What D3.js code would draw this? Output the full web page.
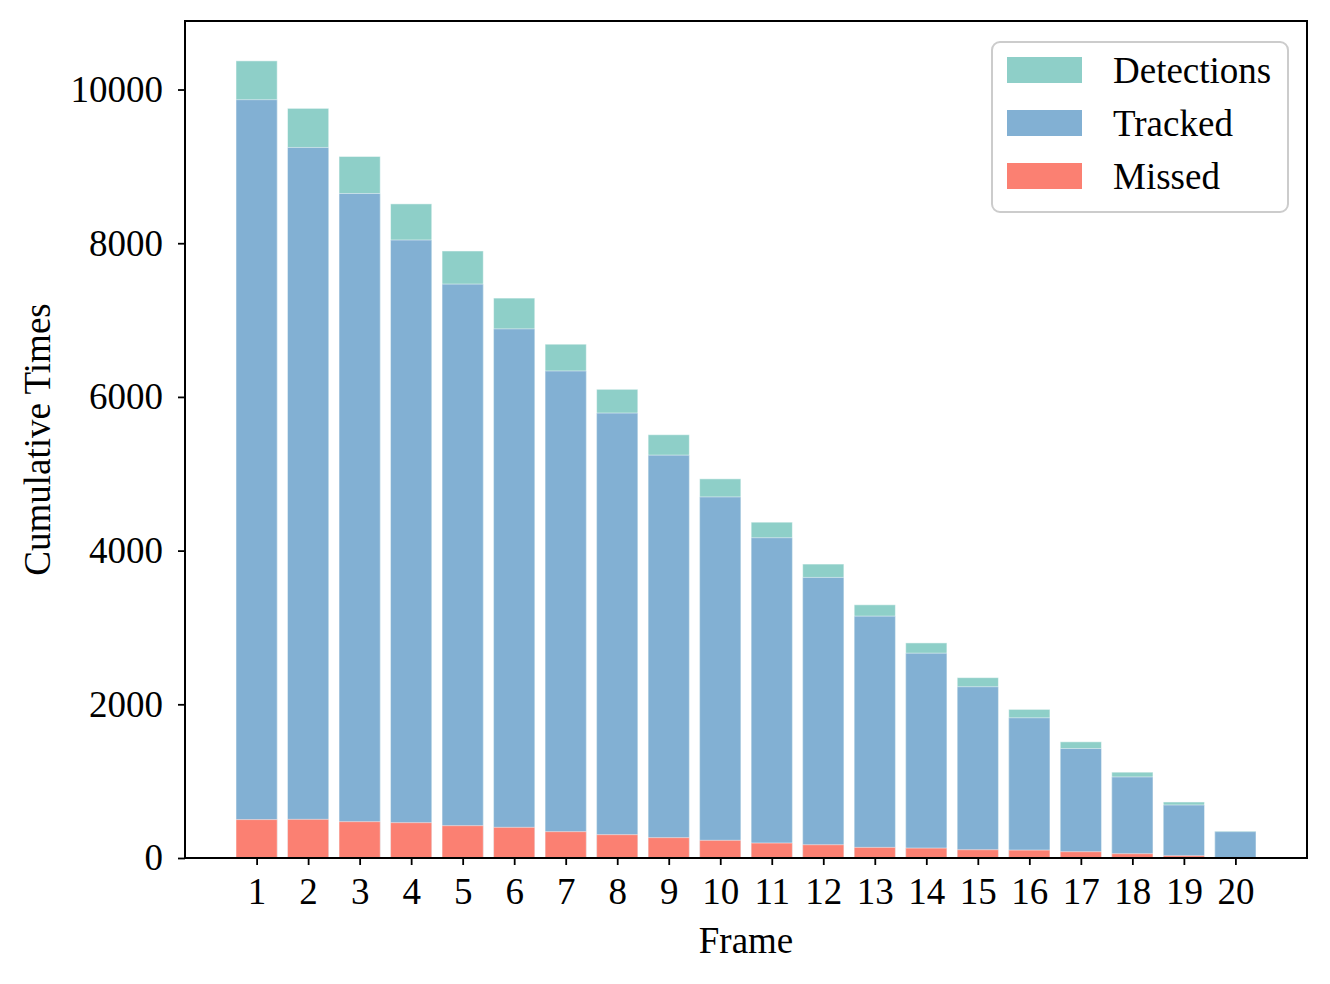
<!DOCTYPE html>
<html>
<head>
<meta charset="utf-8">
<script src="https://cdn.jsdelivr.net/npm/d3@7"></script>
<style>
  body { margin: 0; background: #fff; }
  text { font-family: "Liberation Serif", "Times New Roman", serif; }
</style>
</head>
<body>
<div id="chart"></div>
<script>
// frames 1..20 and the three series
const frames = d3.range(1, 21)
const detections = [10373, 9755, 9129, 8512, 7899, 7286, 6686, 6099, 5508, 4934,
                    4370, 3825, 3295, 2799, 2347, 1934, 1512, 1117, 729, 351]
const tracked = [9868, 9246, 8647, 8042, 7468, 6886, 6338, 5790, 5242, 4699,
                 4168, 3651, 3147, 2665, 2229, 1825, 1425, 1055, 690, 343]
const missed = [500, 503, 473, 460, 421, 399, 343, 304, 265, 230,
                195, 173, 138, 129, 108, 103, 82, 56, 30, 5]
const yTicks = [0, 2000, 4000, 6000, 8000, 10000]
const seriesNames = ["Detections", "Tracked", "Missed"]
const colors = ["#8ecfc8", "#82b0d3", "#fb8072"]

const width = 1330
const height = 984
const margin = { top: 21, right: 23, bottom: 126, left: 185 }
const fontSize = 37

const svg = d3.select("#chart").append("svg")
  .attr("width", width).attr("height", height)

const plotW = width - margin.left - margin.right
const plotH = height - margin.top - margin.bottom

// matplotlib-like autoscale: bars are 0.8 wide, 5% margins
const barW = 0.8
const lo = 1 - barW / 2, hi = 20 + barW / 2
const pad = (hi - lo) * 0.05
const x = d3.scaleLinear().domain([lo - pad, hi + pad]).range([0, plotW])
const y = d3.scaleLinear().domain([0, d3.max(detections) * 1.05]).range([plotH, 0])

const g = svg.append("g").attr("transform", `translate(${margin.left}, ${margin.top})`)

// bars drawn over each other from zero: detections, then tracked, then missed
const allSeries = [detections, tracked, missed]
allSeries.forEach((vals, i) => {
  g.append("g").selectAll("rect").data(vals).enter().append("rect")
    .attr("x", (d, j) => x(frames[j] - barW / 2))
    .attr("width", x(barW) - x(0))
    .attr("y", d => y(d))
    .attr("height", d => y(0) - y(d))
    .attr("fill", colors[i])
    .attr("stroke", "#ffffff")
    .attr("stroke-opacity", 0.5)
    .attr("stroke-width", 1)
})

// axes
const xAxis = d3.axisBottom(x).tickValues(frames).tickSize(7).tickPadding(13)
const yAxis = d3.axisLeft(y).tickValues(yTicks).tickFormat(d3.format("d"))
  .tickSize(7).tickPadding(15)

const xAxisGroup = g.append("g").attr("transform", `translate(0, ${plotH})`).call(xAxis)
const yAxisGroup = g.append("g").call(yAxis)

;[xAxisGroup, yAxisGroup].forEach(ax => {
  ax.select(".domain").remove()
  ax.selectAll("line").attr("stroke", "#000").attr("stroke-width", 1.8)
  ax.selectAll("text").attr("font-size", fontSize).attr("fill", "#000")
    .style("font-family", '"Liberation Serif", serif')
})

// frame (all four spines)
g.append("rect").attr("x", 0).attr("y", 0).attr("width", plotW).attr("height", plotH)
  .attr("fill", "none").attr("stroke", "#000").attr("stroke-width", 2)

// axis labels
svg.append("text").attr("x", margin.left + plotW / 2).attr("y", 953)
  .attr("text-anchor", "middle").attr("font-size", fontSize).text("Frame")
svg.append("text")
  .attr("transform", `translate(50, ${margin.top + plotH / 2}) rotate(-90)`)
  .attr("text-anchor", "middle").attr("font-size", fontSize).text("Cumulative Times")

// legend
const legend = svg.append("g").attr("transform", "translate(992, 42)")
legend.append("rect").attr("width", 296).attr("height", 170).attr("rx", 8)
  .attr("fill", "#fff").attr("fill-opacity", 0.8)
  .attr("stroke", "#cccccc").attr("stroke-width", 2)
seriesNames.forEach((name, i) => {
  const row = legend.append("g").attr("transform", `translate(15, ${15 + i * 53})`)
  row.append("rect").attr("width", 75).attr("height", 26).attr("fill", colors[i])
  row.append("text").attr("x", 106).attr("y", 13).attr("dy", "0.35em")
    .attr("font-size", fontSize).text(name)
})
</script>
</body>
</html>
